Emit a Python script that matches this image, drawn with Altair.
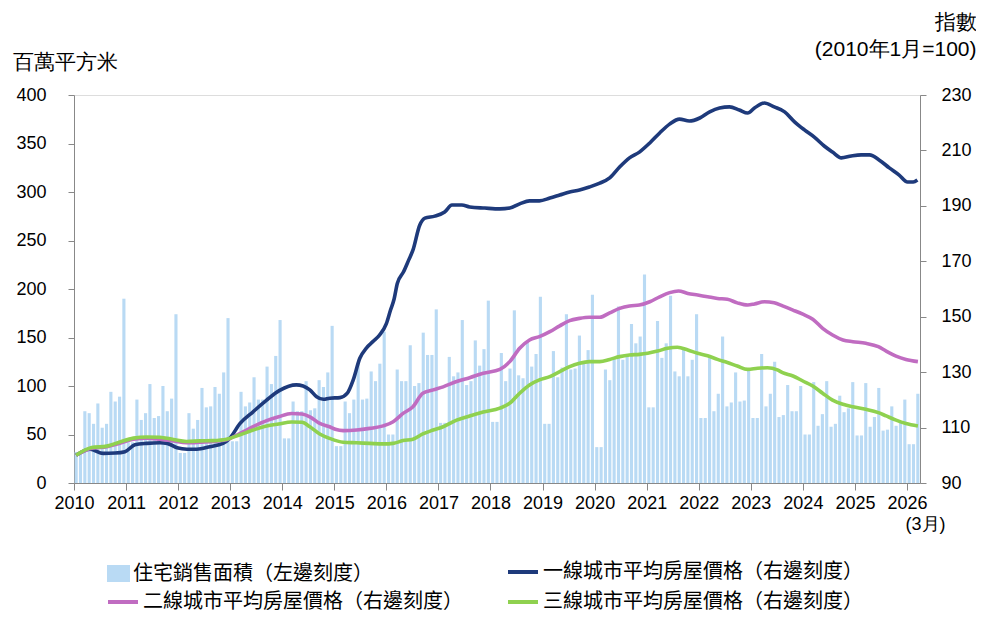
import altair as alt
import pandas as pd

FONT = "Noto Sans CJK TC"

# ---- data ----
year_ticks = list(range(2010, 2027))

# monthly residential floor space sold (million sq m), Jan 2010 - Mar 2026
sales_2010 = [32, 32, 74, 72, 61, 82, 57, 61, 94, 84, 89, 190]
sales_2011 = [42, 42, 86, 65, 72, 102, 67, 69, 100, 74, 87, 174]
sales_2012 = [31, 31, 72, 56, 65, 98, 78, 79, 99, 92, 114, 170]
sales_2013 = [43, 43, 94, 79, 83, 109, 86, 86, 120, 102, 131, 168]
sales_2014 = [46, 46, 84, 74, 74, 105, 75, 77, 106, 99, 114, 162]
sales_2015 = [38, 38, 84, 72, 86, 124, 86, 87, 115, 105, 123, 156]
sales_2016 = [50, 50, 117, 105, 105, 142, 100, 103, 155, 132, 132, 179]
sales_2017 = [62, 62, 130, 110, 114, 168, 101, 105, 147, 121, 138, 188]
sales_2018 = [63, 63, 134, 105, 118, 178, 111, 108, 145, 120, 133, 192]
sales_2019 = [61, 61, 136, 109, 119, 174, 117, 118, 152, 125, 137, 194]
sales_2020 = [37, 37, 117, 106, 130, 182, 127, 133, 164, 144, 151, 215]
sales_2021 = [78, 78, 167, 129, 144, 193, 115, 110, 137, 110, 127, 174]
sales_2022 = [67, 67, 129, 74, 92, 151, 79, 83, 114, 84, 85, 117]
sales_2023 = [67, 67, 133, 79, 92, 125, 68, 70, 101, 74, 74, 100]
sales_2024 = [50, 50, 104, 59, 71, 105, 58, 61, 90, 73, 77, 104]
sales_2025 = [49, 49, 103, 58, 68, 98, 54, 55, 79, 59, 63, 86]
sales_2026 = [40, 40, 92]

sales = (sales_2010 + sales_2011 + sales_2012 + sales_2013 + sales_2014 + sales_2015
         + sales_2016 + sales_2017 + sales_2018 + sales_2019 + sales_2020 + sales_2021
         + sales_2022 + sales_2023 + sales_2024 + sales_2025 + sales_2026)

# price indices (Jan 2010 = 100), read at decimal-year positions
tier1_t = [2010.04, 2010.31, 2010.56, 2010.79, 2010.98, 2011.17, 2011.40, 2011.65, 2011.79, 2011.98,
           2012.17, 2012.36, 2012.61, 2012.86, 2012.99, 2013.19, 2013.44, 2013.70, 2013.95, 2014.27,
           2014.40, 2014.53, 2014.66, 2014.79, 2014.91, 2015.11, 2015.25, 2015.36, 2015.49, 2015.62,
           2015.74, 2015.87, 2016.00, 2016.08, 2016.15, 2016.21, 2016.33, 2016.43, 2016.51, 2016.64,
           2016.74, 2016.93, 2017.12, 2017.26, 2017.45, 2017.60, 2017.89, 2018.18, 2018.37, 2018.56,
           2018.75, 2018.94, 2019.14, 2019.33, 2019.52, 2019.71, 2019.90, 2020.10, 2020.29, 2020.48,
           2020.67, 2020.86, 2021.06, 2021.25, 2021.44, 2021.63, 2021.82, 2022.02, 2022.21, 2022.40,
           2022.59, 2022.78, 2022.94, 2023.07, 2023.26, 2023.45, 2023.65, 2023.84, 2024.03, 2024.22,
           2024.41, 2024.57, 2024.74, 2024.93, 2025.12, 2025.28, 2025.47, 2025.66, 2025.85, 2026.01,
           2026.12, 2026.20]
tier1_v = [100.0, 102.2, 100.7, 100.8, 101.3, 103.8, 104.3, 104.5, 104.3, 102.7,
           102.2, 102.2, 103.1, 104.3, 106.1, 111.5, 115.7, 119.9, 123.4, 125.4,
           125.0, 123.6, 121.1, 120.2, 120.6, 120.8, 122.4, 127.0, 135.0, 138.8,
           141.0, 143.4, 147.5, 152.4, 156.5, 162.0, 166.2, 170.5, 174.0, 183.0,
           185.6, 186.3, 187.8, 190.3, 190.3, 189.6, 189.2, 188.9, 189.2, 190.7,
           191.8, 191.8, 192.8, 193.9, 195.0, 195.7, 196.8, 198.2, 200.1, 204.0,
           207.3, 209.4, 212.7, 216.3, 219.5, 221.3, 220.6, 221.7, 223.9, 225.3,
           225.7, 224.6, 223.5, 225.3, 227.1, 225.7, 223.9, 220.3, 217.4, 214.8,
           211.6, 209.4, 207.3, 208.0, 208.4, 208.4, 206.5, 203.7, 201.1, 198.6,
           198.6, 199.3]

tier2_t = [2010.04, 2010.34, 2010.63, 2010.88, 2011.14, 2011.40, 2011.65, 2011.91, 2012.16, 2012.42,
           2012.67, 2012.93, 2013.19, 2013.44, 2013.70, 2013.93, 2014.18, 2014.38, 2014.53, 2014.72,
           2014.91, 2015.02, 2015.17, 2015.43, 2015.68, 2015.94, 2016.13, 2016.32, 2016.51, 2016.70,
           2016.90, 2017.09, 2017.35, 2017.60, 2017.86, 2018.18, 2018.37, 2018.56, 2018.75, 2018.94,
           2019.14, 2019.33, 2019.52, 2019.71, 2019.90, 2020.10, 2020.29, 2020.48, 2020.67, 2020.86,
           2021.06, 2021.25, 2021.44, 2021.61, 2021.79, 2021.98, 2022.17, 2022.36, 2022.55, 2022.74,
           2022.94, 2023.07, 2023.26, 2023.45, 2023.61, 2023.81, 2024.00, 2024.19, 2024.38, 2024.57,
           2024.77, 2024.96, 2025.21, 2025.45, 2025.60, 2025.79, 2025.98, 2026.21]
tier2_v = [100.0, 102.5, 103.1, 104.3, 105.8, 106.2, 105.8, 105.2, 104.5, 104.7,
           105.0, 105.6, 107.9, 110.3, 112.5, 113.9, 115.1, 114.9, 113.9, 111.5,
           110.3, 109.4, 108.9, 109.1, 109.7, 110.6, 112.1, 115.1, 117.5, 122.4,
           123.6, 124.7, 126.6, 128.0, 129.6, 131.0, 133.8, 138.6, 141.6, 142.8,
           144.6, 146.7, 148.6, 149.4, 149.8, 149.8, 151.4, 153.0, 153.9, 154.2,
           155.4, 157.2, 158.7, 159.3, 158.4, 157.8, 157.2, 156.6, 156.3, 155.0,
           154.2, 154.6, 155.4, 155.0, 153.9, 152.4, 150.9, 149.1, 145.8, 143.4,
           141.6, 141.0, 140.4, 139.2, 137.6, 135.8, 134.6, 133.8]

tier3_t = [2010.04, 2010.34, 2010.63, 2010.88, 2011.14, 2011.40, 2011.65, 2011.91, 2012.16, 2012.42,
           2012.67, 2012.93, 2013.19, 2013.44, 2013.70, 2013.93, 2014.18, 2014.38, 2014.53, 2014.72,
           2014.91, 2015.17, 2015.43, 2015.68, 2015.94, 2016.13, 2016.32, 2016.51, 2016.70, 2016.90,
           2017.09, 2017.35, 2017.60, 2017.86, 2018.18, 2018.37, 2018.56, 2018.75, 2018.94, 2019.14,
           2019.33, 2019.52, 2019.71, 2019.90, 2020.10, 2020.29, 2020.48, 2020.67, 2020.86, 2021.02,
           2021.21, 2021.40, 2021.59, 2021.79, 2021.98, 2022.17, 2022.36, 2022.55, 2022.74, 2022.94,
           2023.13, 2023.32, 2023.51, 2023.61, 2023.81, 2024.00, 2024.19, 2024.38, 2024.57, 2024.77,
           2024.96, 2025.21, 2025.45, 2025.60, 2025.79, 2025.98, 2026.21]
tier3_v = [100.0, 102.8, 103.3, 104.8, 106.2, 106.6, 106.5, 105.7, 105.0, 105.2,
           105.3, 105.8, 107.4, 109.1, 110.6, 111.3, 112.0, 111.9, 110.3, 107.7,
           106.1, 104.7, 104.5, 104.3, 104.1, 104.3, 105.3, 105.8, 107.7, 109.1,
           110.3, 112.7, 114.2, 115.6, 117.0, 118.8, 122.4, 125.4, 127.2, 128.4,
           130.2, 132.0, 133.2, 133.8, 133.8, 134.6, 135.6, 136.2, 136.4, 136.8,
           137.6, 138.6, 139.0, 138.0, 136.8, 135.9, 134.6, 133.5, 132.2, 131.0,
           131.4, 131.6, 130.8, 129.8, 128.6, 126.8, 125.0, 122.4, 119.9, 118.4,
           117.5, 116.6, 115.4, 114.2, 112.7, 111.5, 110.6]

NAME_BAR = "住宅銷售面積（左邊刻度）"
NAME_T1 = "一線城市平均房屋價格（右邊刻度）"
NAME_T2 = "二線城市平均房屋價格（右邊刻度）"
NAME_T3 = "三線城市平均房屋價格（右邊刻度）"

COL_BAR = "#b9daf4"
COL_T1 = "#1e3a7b"
COL_T2 = "#c06cc1"
COL_T3 = "#8fd14f"

# ---- tables ----
n = len(sales)
bar_df = pd.DataFrame({"m": list(range(n)), "sales": sales})
bar_df["x0"] = 2010 + (bar_df["m"] + 0.14) / 12
bar_df["x1"] = 2010 + (bar_df["m"] + 0.86) / 12
bar_df["base"] = 0
bar_df["series"] = NAME_BAR

def line_df(t, v, name):
    return pd.DataFrame({"t": t, "v": v, "series": name})

x_end = 2010 + n / 12
x_scale = alt.Scale(domain=[2010, x_end], nice=False, zero=False)
x_axis = alt.Axis(values=year_ticks, format="d", grid=False, labelFlush=False,
                  labelOverlap=False, labelFontSize=18, labelPadding=4, tickSize=7,
                  title="(3月)", titleX=851, titleY=41, titleAlign="center",
                  titleBaseline="middle", titleFontSize=18, titleFontWeight="normal")

y_right_scale = alt.Scale(domain=[90, 230], nice=False, zero=False)

def legend(x, y, stype, size, sw):
    return alt.Legend(orient="none", legendX=x, legendY=y, title=None, symbolType=stype,
                      symbolSize=size, symbolStrokeWidth=sw, labelFontSize=20, labelFont=FONT,
                      labelColor="#000000", labelLimit=0, padding=0, labelOffset=3)

bars = alt.Chart(bar_df).mark_bar(color=COL_BAR).encode(
    x=alt.X("x0:Q", scale=x_scale, axis=x_axis),
    x2="x1:Q",
    y=alt.Y("sales:Q", scale=alt.Scale(domain=[0, 400], nice=False, zero=True),
            axis=alt.Axis(values=list(range(0, 401, 50)), grid=False, orient="left",
                          title="百萬平方米", titleAngle=0, titleX=-62, titleY=-33,
                          titleAlign="left", titleBaseline="middle", titleFontSize=21,
                          titleFontWeight="normal", labelFontSize=18, labelPadding=22,
                          tickSize=6)),
    y2="base:Q",
    color=alt.Color("series:N", scale=alt.Scale(domain=[NAME_BAR], range=[COL_BAR]),
                    legend=legend(33, 467, "M-1,-0.74H1V0.74H-1Z", 529, 0)),
)

def line_layer(df, name, col, lx, ly, axis):
    return alt.Chart(df).mark_line(strokeWidth=3.6, interpolate="monotone").encode(
        x=alt.X("t:Q", scale=x_scale, axis=x_axis),
        y=alt.Y("v:Q", scale=y_right_scale, axis=axis),
        color=alt.Color("series:N", scale=alt.Scale(domain=[name], range=[col]),
                        legend=legend(lx, ly, "stroke", 900, 4)),
    )

right_axis = alt.Axis(values=list(range(90, 231, 20)), grid=False, orient="right",
                      title=["指數", "(2010年1月=100)"], titleAngle=0, titleX=56, titleY=-67,
                      titleAlign="right", titleBaseline="alphabetic", titleLineHeight=27,
                      titleFontSize=21, titleFontWeight="normal", labelFontSize=18,
                      labelPadding=15, tickSize=6)

l1 = line_layer(line_df(tier1_t, tier1_v, NAME_T1), NAME_T1, COL_T1, 432, 460, right_axis)
l2 = line_layer(line_df(tier2_t, tier2_v, NAME_T2), NAME_T2, COL_T2, 32, 490, None)
l3 = line_layer(line_df(tier3_t, tier3_v, NAME_T3), NAME_T3, COL_T3, 432, 490, None)

chart = alt.layer(bars, l1, l2, l3).resolve_scale(
    y="independent", color="independent"
).properties(
    width=846, height=388,
    autosize=alt.AutoSizeParams(type="none"),
    padding={"left": 66, "top": 87, "right": 56, "bottom": 132},
).configure_view(stroke=None).configure_axis(
    labelFont=FONT, titleFont=FONT, labelColor="#000000", titleColor="#000000",
    domainColor="#a6a6a6", tickColor="#a6a6a6", domainWidth=1.5, tickWidth=1.5,
).configure(background="white")

chart.save("out.html", embed_options={"renderer": "svg", "actions": False})
